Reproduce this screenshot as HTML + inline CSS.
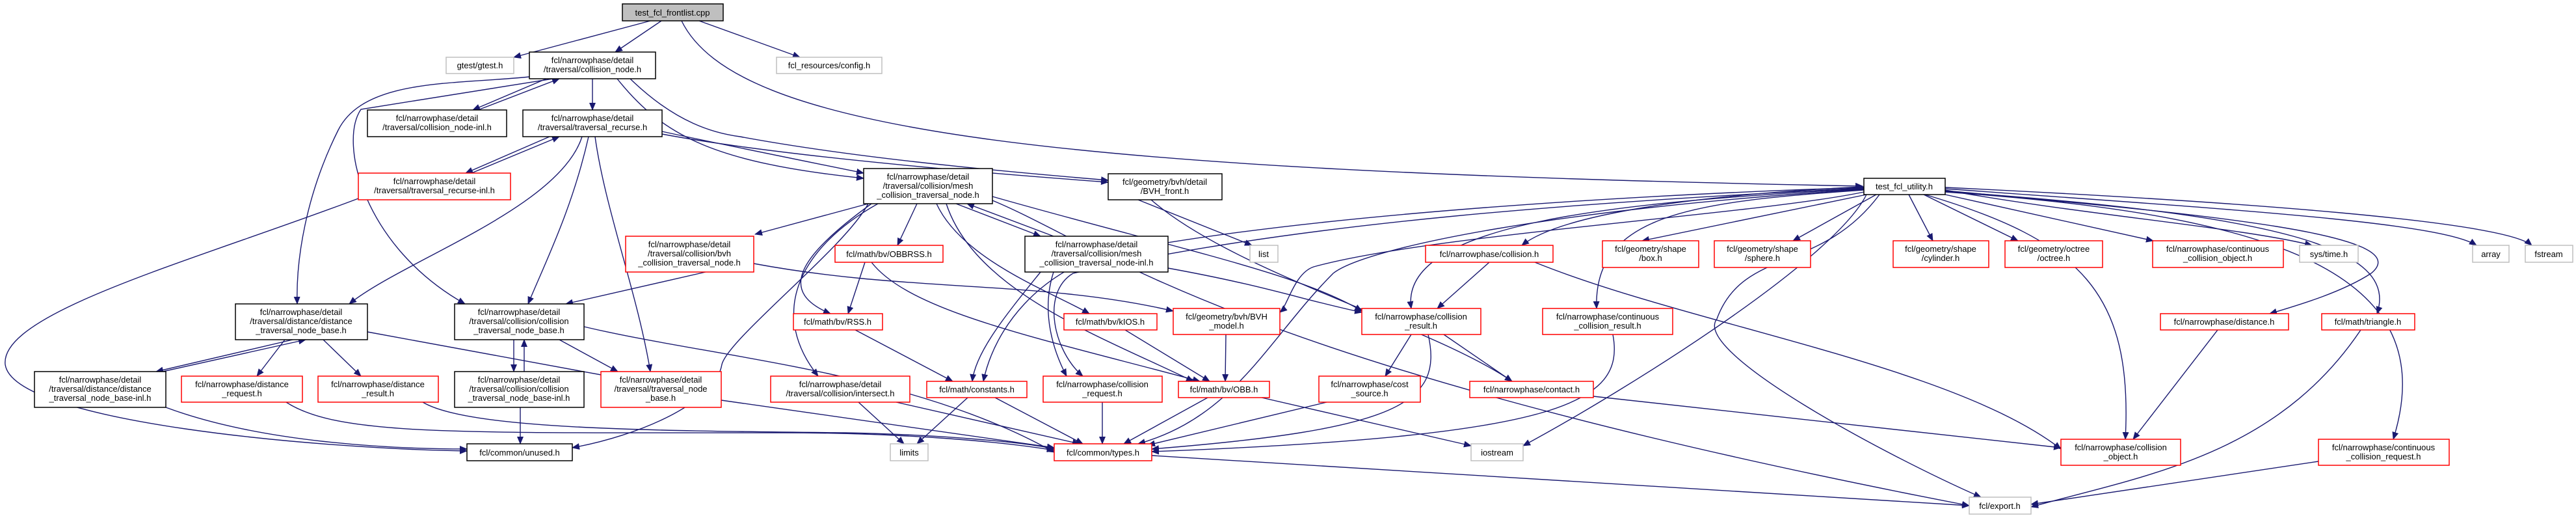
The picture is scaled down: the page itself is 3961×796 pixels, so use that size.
<!DOCTYPE html>
<html><head><meta charset="utf-8"><style>
html,body{margin:0;padding:0;background:#fff;}
svg{display:block;}
text{font-family:"Liberation Sans",sans-serif;font-size:13px;fill:#000;text-anchor:middle;}
.e{fill:none;stroke:#191970;stroke-width:1.4;marker-end:url(#ah);}
</style></head><body>
<svg width="3961" height="796" viewBox="0 0 3961 796" xmlns="http://www.w3.org/2000/svg">
<defs><marker id="ah" markerUnits="userSpaceOnUse" markerWidth="12" markerHeight="10" refX="11" refY="5" orient="auto"><path d="M0,0 L12,5 L0,10 z" fill="#191970"/></marker></defs>
<g>
<path class="e" d="M1000,32 L790,88"/>
<path class="e" d="M1017,32 L946,80"/>
<path class="e" d="M1048,32 C1130,200 1600,262 2864,286"/>
<path class="e" d="M1075,32 L1230,88"/>
<path class="e" d="M840,121 L727,169"/>
<path class="e" d="M735,169 L860,121"/>
<path class="e" d="M911,121 L911,169"/>
<path class="e" d="M814,118 C700,130 560,120 520,200 C470,300 455,400 457,467"/>
<path class="e" d="M850,121 L555,168 C520,220 560,380 715,467"/>
<path class="e" d="M949,121 C1020,210 1100,250 1328,274"/>
<path class="e" d="M969,121 C1040,190 1100,205 1138,210 C1300,240 1500,260 1704,277"/>
<path class="e" d="M1018,202 C1100,220 1250,250 1328,266"/>
<path class="e" d="M1018,206 C1200,240 1500,265 1704,280"/>
<path class="e" d="M845,210 L716,266"/>
<path class="e" d="M725,266 L860,210"/>
<path class="e" d="M895,210 C860,320 620,400 537,467"/>
<path class="e" d="M905,210 C880,320 840,400 812,467"/>
<path class="e" d="M915,210 C930,320 980,450 1000,571"/>
<path class="e" d="M551,305 C300,400 0,480 8,560 C20,650 500,690 718,693"/>
<path class="e" d="M1335,313 L1161,360"/>
<path class="e" d="M1410,313 L1380,377"/>
<path class="e" d="M1340,313 C1220,400 1200,450 1277,482"/>
<path class="e" d="M1350,313 C1230,380 1180,480 1258,578"/>
<path class="e" d="M1335,313 C1300,380 1120,520 1110,560 C1100,620 980,670 880,688"/>
<path class="e" d="M1470,313 L1600,363"/>
<path class="e" d="M1620,363 L1487,313"/>
<path class="e" d="M1440,313 C1480,400 1620,450 1675,482"/>
<path class="e" d="M1455,313 C1500,450 1700,520 1835,586"/>
<path class="e" d="M1526,302 C1800,380 2000,420 2094,478"/>
<path class="e" d="M1526,308 C1700,380 1900,560 3028,777"/>
<path class="e" d="M1750,307 L1925,377"/>
<path class="e" d="M1770,307 C1900,420 2200,500 2325,586"/>
<path class="e" d="M1085,418 L870,467"/>
<path class="e" d="M1159,405 C1400,450 1600,430 1804,478"/>
<path class="e" d="M1330,403 L1304,482"/>
<path class="e" d="M1340,403 C1400,480 1600,520 1845,586"/>
<path class="e" d="M1600,418 C1550,480 1500,540 1495,586"/>
<path class="e" d="M1620,418 C1600,480 1620,540 1640,578"/>
<path class="e" d="M1796,412 C1950,440 2000,460 2094,480"/>
<path class="e" d="M450,522 L240,571"/>
<path class="e" d="M250,571 L470,522"/>
<path class="e" d="M438,522 L395,578"/>
<path class="e" d="M497,522 L555,578"/>
<path class="e" d="M565,510 L935,578"/>
<path class="e" d="M790,522 L790,571"/>
<path class="e" d="M806,571 L806,522"/>
<path class="e" d="M860,522 L950,571"/>
<path class="e" d="M898,502 C1100,550 1400,570 1621,695"/>
<path class="e" d="M255,626 C400,680 600,690 718,690"/>
<path class="e" d="M440,618 C520,670 700,665 1200,665 C1400,665 1550,680 1621,692"/>
<path class="e" d="M650,618 C720,660 1000,662 1300,665 C1450,668 1580,680 1621,690"/>
<path class="e" d="M800,626 L800,682"/>
<path class="e" d="M1109,615 L1621,688"/>
<path class="e" d="M1320,618 L1390,682"/>
<path class="e" d="M1378,618 L1660,682"/>
<path class="e" d="M1488,611 L1410,682"/>
<path class="e" d="M1530,611 L1665,682"/>
<path class="e" d="M1695,618 L1695,682"/>
<path class="e" d="M1857,611 L1728,682"/>
<path class="e" d="M1940,611 L2262,685"/>
<path class="e" d="M2040,618 L1765,684"/>
<path class="e" d="M1730,507 L1860,586"/>
<path class="e" d="M1885,514 L1884,586"/>
<path class="e" d="M1315,507 L1465,586"/>
<path class="e" d="M2170,514 L2130,578"/>
<path class="e" d="M2220,514 L2325,586"/>
<path class="e" d="M2196,514 C2220,620 2150,660 1771,690"/>
<path class="e" d="M2480,514 C2500,620 2400,670 1771,694"/>
<path class="e" d="M2290,403 L2210,474"/>
<path class="e" d="M2360,403 C2600,500 3000,560 3169,690"/>
<path class="e" d="M2450,609 L3169,688"/>
<path class="e" d="M1771,700 L3028,777"/>
<path class="e" d="M3410,507 L3280,675"/>
<path class="e" d="M3630,507 C3500,700 3300,730 3123,779"/>
<path class="e" d="M3565,709 L3123,775"/>
<path class="e" d="M2866,287 C2600,300 2400,330 2340,377"/>
<path class="e" d="M2870,299 L2525,370"/>
<path class="e" d="M2885,299 L2757,370"/>
<path class="e" d="M2935,299 L2972,370"/>
<path class="e" d="M2958,299 L3103,370"/>
<path class="e" d="M2991,299 L3311,370"/>
<path class="e" d="M2991,292 C3200,330 3450,350 3555,377"/>
<path class="e" d="M2991,290 C3400,320 3750,340 3808,377"/>
<path class="e" d="M2991,288 C3450,310 3850,340 3893,377"/>
<path class="e" d="M2991,293 C3400,330 3720,360 3646,420 C3600,450 3530,470 3490,482"/>
<path class="e" d="M2991,294 C3500,330 3690,380 3655,482"/>
<path class="e" d="M2991,295 C3500,330 3760,420 3680,675"/>
<path class="e" d="M2960,299 C3200,370 3280,450 3268,675"/>
<path class="e" d="M2866,292 C2600,310 2450,330 2455,474"/>
<path class="e" d="M2866,290 C2500,310 2150,340 2170,474"/>
<path class="e" d="M2866,295 C2700,330 2200,360 2020,410 C1990,420 1980,470 1968,480"/>
<path class="e" d="M2870,299 C2820,400 2500,600 2342,685"/>
<path class="e" d="M2890,299 C2800,420 2680,380 2640,490 C2600,540 2900,700 3046,764"/>
<path class="e" d="M2866,288 C2500,300 2000,330 1700,390 C1600,420 1530,500 1512,586"/>
<path class="e" d="M2866,289 C2450,310 2000,340 1650,420 C1600,450 1620,540 1665,578"/>
<path class="e" d="M2866,291 C2400,320 2100,380 2050,420 C1950,520 1900,640 1750,682"/>
</g>
<g stroke-width="1.5">
<rect x="957" y="6" width="155" height="26" fill="#bfbfbf" stroke="#000"/>
<rect x="686" y="88" width="104" height="25" fill="#fff" stroke="#bfbfbf"/>
<rect x="814" y="80" width="194" height="41" fill="#fff" stroke="#000"/>
<rect x="1194" y="88" width="162" height="25" fill="#fff" stroke="#bfbfbf"/>
<rect x="565" y="169" width="214" height="41" fill="#fff" stroke="#000"/>
<rect x="804" y="169" width="214" height="41" fill="#fff" stroke="#000"/>
<rect x="551" y="266" width="234" height="41" fill="#fff" stroke="#f00"/>
<rect x="1328" y="259" width="198" height="54" fill="#fff" stroke="#000"/>
<rect x="1704" y="267" width="175" height="40" fill="#fff" stroke="#000"/>
<rect x="2866" y="274" width="125" height="25" fill="#fff" stroke="#000"/>
<rect x="962" y="363" width="197" height="55" fill="#fff" stroke="#f00"/>
<rect x="1284" y="377" width="166" height="26" fill="#fff" stroke="#f00"/>
<rect x="1576" y="363" width="220" height="55" fill="#fff" stroke="#000"/>
<rect x="1922" y="377" width="43" height="26" fill="#fff" stroke="#bfbfbf"/>
<rect x="2192" y="377" width="196" height="26" fill="#fff" stroke="#f00"/>
<rect x="2464" y="370" width="148" height="41" fill="#fff" stroke="#f00"/>
<rect x="2636" y="370" width="148" height="41" fill="#fff" stroke="#f00"/>
<rect x="2911" y="370" width="147" height="41" fill="#fff" stroke="#f00"/>
<rect x="3083" y="370" width="150" height="41" fill="#fff" stroke="#f00"/>
<rect x="3310" y="370" width="201" height="41" fill="#fff" stroke="#f00"/>
<rect x="3536" y="377" width="90" height="26" fill="#fff" stroke="#bfbfbf"/>
<rect x="3802" y="377" width="56" height="26" fill="#fff" stroke="#bfbfbf"/>
<rect x="3883" y="377" width="73" height="26" fill="#fff" stroke="#bfbfbf"/>
<rect x="362" y="467" width="203" height="55" fill="#fff" stroke="#000"/>
<rect x="699" y="467" width="199" height="55" fill="#fff" stroke="#000"/>
<rect x="1220" y="482" width="137" height="25" fill="#fff" stroke="#f00"/>
<rect x="1636" y="482" width="143" height="25" fill="#fff" stroke="#f00"/>
<rect x="1804" y="474" width="164" height="40" fill="#fff" stroke="#f00"/>
<rect x="2094" y="474" width="183" height="40" fill="#fff" stroke="#f00"/>
<rect x="2372" y="474" width="200" height="40" fill="#fff" stroke="#f00"/>
<rect x="3322" y="482" width="197" height="25" fill="#fff" stroke="#f00"/>
<rect x="3570" y="482" width="143" height="25" fill="#fff" stroke="#f00"/>
<rect x="53" y="571" width="202" height="55" fill="#fff" stroke="#000"/>
<rect x="279" y="578" width="186" height="40" fill="#fff" stroke="#f00"/>
<rect x="489" y="578" width="185" height="40" fill="#fff" stroke="#f00"/>
<rect x="699" y="571" width="199" height="55" fill="#fff" stroke="#000"/>
<rect x="924" y="571" width="185" height="55" fill="#fff" stroke="#f00"/>
<rect x="1185" y="578" width="214" height="40" fill="#fff" stroke="#f00"/>
<rect x="1425" y="586" width="154" height="25" fill="#fff" stroke="#f00"/>
<rect x="1604" y="578" width="183" height="40" fill="#fff" stroke="#f00"/>
<rect x="1812" y="586" width="140" height="25" fill="#fff" stroke="#f00"/>
<rect x="2028" y="578" width="156" height="40" fill="#fff" stroke="#f00"/>
<rect x="2260" y="586" width="190" height="25" fill="#fff" stroke="#f00"/>
<rect x="3169" y="675" width="184" height="40" fill="#fff" stroke="#f00"/>
<rect x="3565" y="675" width="201" height="40" fill="#fff" stroke="#f00"/>
<rect x="718" y="682" width="162" height="26" fill="#fff" stroke="#000"/>
<rect x="1369" y="682" width="58" height="26" fill="#fff" stroke="#bfbfbf"/>
<rect x="1621" y="682" width="150" height="26" fill="#fff" stroke="#f00"/>
<rect x="2262" y="682" width="80" height="26" fill="#fff" stroke="#bfbfbf"/>
<rect x="3028" y="764" width="95" height="26" fill="#fff" stroke="#bfbfbf"/>
</g>
<g>
<text x="1034" y="24">test_fcl_frontlist.cpp</text>
<text x="738" y="105">gtest/gtest.h</text>
<text x="911" y="97">fcl/narrowphase/detail</text><text x="911" y="111">/traversal/collision_node.h</text>
<text x="1275" y="105">fcl_resources/config.h</text>
<text x="672" y="186">fcl/narrowphase/detail</text><text x="672" y="200">/traversal/collision_node-inl.h</text>
<text x="911" y="186">fcl/narrowphase/detail</text><text x="911" y="200">/traversal/traversal_recurse.h</text>
<text x="668" y="283">fcl/narrowphase/detail</text><text x="668" y="297">/traversal/traversal_recurse-inl.h</text>
<text x="1427" y="276">fcl/narrowphase/detail</text><text x="1427" y="290">/traversal/collision/mesh</text><text x="1427" y="304">_collision_traversal_node.h</text>
<text x="1791" y="284">fcl/geometry/bvh/detail</text><text x="1791" y="298">/BVH_front.h</text>
<text x="2928" y="291">test_fcl_utility.h</text>
<text x="1060" y="380">fcl/narrowphase/detail</text><text x="1060" y="394">/traversal/collision/bvh</text><text x="1060" y="408">_collision_traversal_node.h</text>
<text x="1367" y="395">fcl/math/bv/OBBRSS.h</text>
<text x="1686" y="380">fcl/narrowphase/detail</text><text x="1686" y="394">/traversal/collision/mesh</text><text x="1686" y="408">_collision_traversal_node-inl.h</text>
<text x="1943" y="395">list</text>
<text x="2290" y="395">fcl/narrowphase/collision.h</text>
<text x="2538" y="387">fcl/geometry/shape</text><text x="2538" y="401">/box.h</text>
<text x="2710" y="387">fcl/geometry/shape</text><text x="2710" y="401">/sphere.h</text>
<text x="2984" y="387">fcl/geometry/shape</text><text x="2984" y="401">/cylinder.h</text>
<text x="3158" y="387">fcl/geometry/octree</text><text x="3158" y="401">/octree.h</text>
<text x="3410" y="387">fcl/narrowphase/continuous</text><text x="3410" y="401">_collision_object.h</text>
<text x="3581" y="395">sys/time.h</text>
<text x="3830" y="395">array</text>
<text x="3919" y="395">fstream</text>
<text x="463" y="484">fcl/narrowphase/detail</text><text x="463" y="498">/traversal/distance/distance</text><text x="463" y="512">_traversal_node_base.h</text>
<text x="798" y="484">fcl/narrowphase/detail</text><text x="798" y="498">/traversal/collision/collision</text><text x="798" y="512">_traversal_node_base.h</text>
<text x="1288" y="499">fcl/math/bv/RSS.h</text>
<text x="1707" y="499">fcl/math/bv/kIOS.h</text>
<text x="1886" y="491">fcl/geometry/bvh/BVH</text><text x="1886" y="505">_model.h</text>
<text x="2185" y="491">fcl/narrowphase/collision</text><text x="2185" y="505">_result.h</text>
<text x="2472" y="491">fcl/narrowphase/continuous</text><text x="2472" y="505">_collision_result.h</text>
<text x="3420" y="499">fcl/narrowphase/distance.h</text>
<text x="3641" y="499">fcl/math/triangle.h</text>
<text x="154" y="588">fcl/narrowphase/detail</text><text x="154" y="602">/traversal/distance/distance</text><text x="154" y="616">_traversal_node_base-inl.h</text>
<text x="372" y="595">fcl/narrowphase/distance</text><text x="372" y="609">_request.h</text>
<text x="581" y="595">fcl/narrowphase/distance</text><text x="581" y="609">_result.h</text>
<text x="798" y="588">fcl/narrowphase/detail</text><text x="798" y="602">/traversal/collision/collision</text><text x="798" y="616">_traversal_node_base-inl.h</text>
<text x="1016" y="588">fcl/narrowphase/detail</text><text x="1016" y="602">/traversal/traversal_node</text><text x="1016" y="616">_base.h</text>
<text x="1292" y="595">fcl/narrowphase/detail</text><text x="1292" y="609">/traversal/collision/intersect.h</text>
<text x="1502" y="603">fcl/math/constants.h</text>
<text x="1695" y="595">fcl/narrowphase/collision</text><text x="1695" y="609">_request.h</text>
<text x="1882" y="603">fcl/math/bv/OBB.h</text>
<text x="2106" y="595">fcl/narrowphase/cost</text><text x="2106" y="609">_source.h</text>
<text x="2355" y="603">fcl/narrowphase/contact.h</text>
<text x="3261" y="692">fcl/narrowphase/collision</text><text x="3261" y="706">_object.h</text>
<text x="3665" y="692">fcl/narrowphase/continuous</text><text x="3665" y="706">_collision_request.h</text>
<text x="799" y="700">fcl/common/unused.h</text>
<text x="1398" y="700">limits</text>
<text x="1696" y="700">fcl/common/types.h</text>
<text x="2302" y="700">iostream</text>
<text x="3075" y="782">fcl/export.h</text>
</g>
</svg>
</body></html>
